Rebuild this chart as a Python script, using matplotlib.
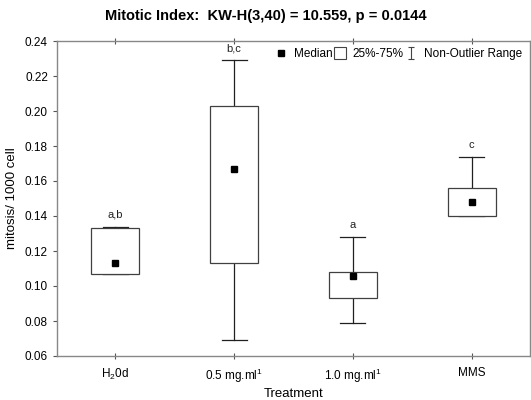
import numpy as np
import matplotlib.pyplot as plt
from matplotlib.path import Path
from matplotlib.lines import Line2D
from matplotlib.patches import Rectangle

plt.rcParams['font.family'] = ['Liberation Sans', 'DejaVu Sans']
plt.rcParams['mathtext.fontset'] = 'custom'
plt.rcParams['mathtext.rm'] = 'Liberation Sans'
plt.rcParams['mathtext.it'] = 'Liberation Sans'

# data
groups = [r"H$_2$0d", r"0.5 mg.ml$^1$", r"1.0 mg.ml$^1$", "MMS"]
medians = [0.113, 0.167, 0.1055, 0.148]
q1 = [0.107, 0.113, 0.093, 0.140]
q3 = [0.133, 0.203, 0.108, 0.156]
wlo = [0.107, 0.069, 0.079, 0.140]
whi = [0.134, 0.229, 0.128, 0.174]
letters = ["a,b", "b,c", "a", "c"]

fig = plt.figure(figsize=(5.31, 4.0), dpi=100)
ax = fig.add_axes([57/531, 1-356/400, (530-57)/531, (356-41)/400])

bw = 0.40
cw = 0.21
edge = '#404040'
for i in range(len(groups)):
    # whiskers
    ax.plot([i, i], [q3[i], whi[i]], color='#202020', lw=0.9, zorder=2)
    ax.plot([i, i], [wlo[i], q1[i]], color='#202020', lw=0.9, zorder=2)
    ax.plot([i-cw/2, i+cw/2], [whi[i], whi[i]], color='#202020', lw=0.9, zorder=2)
    ax.plot([i-cw/2, i+cw/2], [wlo[i], wlo[i]], color='#202020', lw=0.9, zorder=2)
    ax.add_patch(Rectangle((i-bw/2, q1[i]), bw, q3[i]-q1[i], facecolor='white',
                           edgecolor=edge, lw=0.9, zorder=3))
    ax.plot(i, medians[i], 's', color='black', ms=5, zorder=4)
    ax.text(i, whi[i]+0.004, letters[i], ha='center', va='bottom', fontsize=8, color='#222222')

ax.set_xlim(-0.49, 3.49)
ax.set_ylim(0.06, 0.24)
ax.set_xticks(range(len(groups)))
ax.set_xticklabels(groups, fontsize=8.5)
ax.set_yticks(np.arange(0.06, 0.2401, 0.02))
ax.set_yticklabels([f"{v:.2f}" for v in np.arange(0.06, 0.2401, 0.02)], fontsize=8.5)
ax.tick_params(axis='y', direction='out', length=3, width=0.8, color='#555555', right=True)
ax.tick_params(axis='x', direction='inout', length=4, width=0.8, color='#555555', top=True, pad=6)
for s in ax.spines.values():
    s.set_color('#888888')
    s.set_linewidth(1.0)

ax.set_xlabel("Treatment", fontsize=9.5, labelpad=2)
ax.set_ylabel("mitosis/ 1000 cell", fontsize=9.5, labelpad=5)
fig.suptitle("Mitotic Index:  KW-H(3,40) = 10.559, p = 0.0144", x=0.5, y=0.978,
             fontsize=10.5, fontweight='bold')

ibeam = Path([(-0.5, 1), (0.5, 1), (0, 1), (0, -1), (-0.5, -1), (0.5, -1)],
             [Path.MOVETO, Path.LINETO, Path.MOVETO, Path.LINETO, Path.MOVETO, Path.LINETO])
handles = [
    Line2D([], [], ls='none', marker='s', color='black', ms=5),
    Line2D([], [], ls='none', marker='s', mfc='white', mec='#444444', ms=8, mew=0.8),
    Line2D([], [], ls='none', marker=ibeam, color='#444444', ms=9, mew=0.8),
]
ax.legend(handles, ["Median", "25%-75%", "Non-Outlier Range"], loc='upper right', ncol=3,
          frameon=False, fontsize=8.5, handlelength=1.0, handletextpad=0.6, columnspacing=0.1,
          bbox_to_anchor=(1.0, 1.005), borderaxespad=0.3)

fig.savefig("out.png", dpi=100)
